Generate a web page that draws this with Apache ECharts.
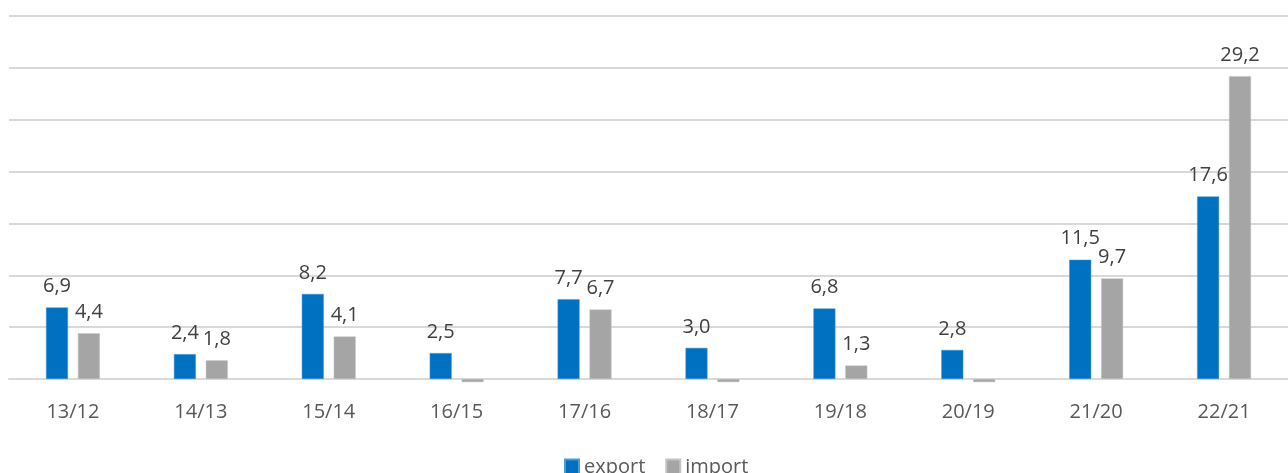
<!DOCTYPE html>
<html>
<head>
<meta charset="utf-8">
<script src="https://cdn.jsdelivr.net/npm/echarts@6/dist/echarts.min.js"></script>
<style>html,body{margin:0;padding:0;background:#fff}#c{width:1288px;height:473px}</style>
</head>
<body>
<div id="c"></div>
<script>
const categories = ['13/12','14/13','15/14','16/15','17/16','18/17','19/18','20/19','21/20','22/21'];
const exportValues = [6.9, 2.4, 8.2, 2.5, 7.7, 3.0, 6.8, 2.8, 11.5, 17.6];
const importValues = [4.4, 1.8, 4.1, -0.3, 6.7, -0.3, 1.3, -0.3, 9.7, 29.2];
const seriesNames = ['export', 'import'];

const FONT = 'Open Sans';
const fmt = p => p.value < 0 ? '' : p.value.toFixed(1).replace('.', ',');
const labelStyle = { show: true, position: 'top', distance: 11, formatter: fmt, color: '#404040', fontSize: 20, fontFamily: FONT };

const chart = echarts.init(document.getElementById('c'), null, { renderer: 'canvas' });
chart.setOption({
  animation: false,
  backgroundColor: '#ffffff',
  grid: { left: 9, top: 16, width: 1289, bottom: 94, containLabel: false },
  legend: {
    left: 559, top: 452,
    itemWidth: 14, itemHeight: 15, itemGap: 20,
    icon: 'rect',
    textStyle: { color: '#595959', fontSize: 20, fontFamily: FONT },
    data: seriesNames
  },
  xAxis: {
    type: 'category',
    data: categories,
    axisLine: { lineStyle: { color: '#d9d9d9', width: 2 } },
    axisTick: { show: false },
    axisLabel: { color: '#595959', fontSize: 20, fontFamily: FONT, margin: 23 }
  },
  yAxis: {
    type: 'value',
    min: 0, max: 35, interval: 5,
    axisLabel: { show: false },
    axisLine: { show: false },
    axisTick: { show: false },
    splitLine: { lineStyle: { color: '#d9d9d9', width: 2 } }
  },
  series: [
    {
      name: seriesNames[0], type: 'bar', data: exportValues, clip: false,
      barWidth: 22, barGap: '45%',
      itemStyle: { color: '#0070C0', borderColor: '#4a9ad6', borderWidth: 0.5 },
      label: labelStyle
    },
    {
      name: seriesNames[1], type: 'bar', data: importValues, clip: false,
      barWidth: 22,
      itemStyle: { color: '#A5A5A5', borderColor: '#c4c4c4', borderWidth: 0.5 },
      label: labelStyle
    }
  ]
});
</script>
</body>
</html>
